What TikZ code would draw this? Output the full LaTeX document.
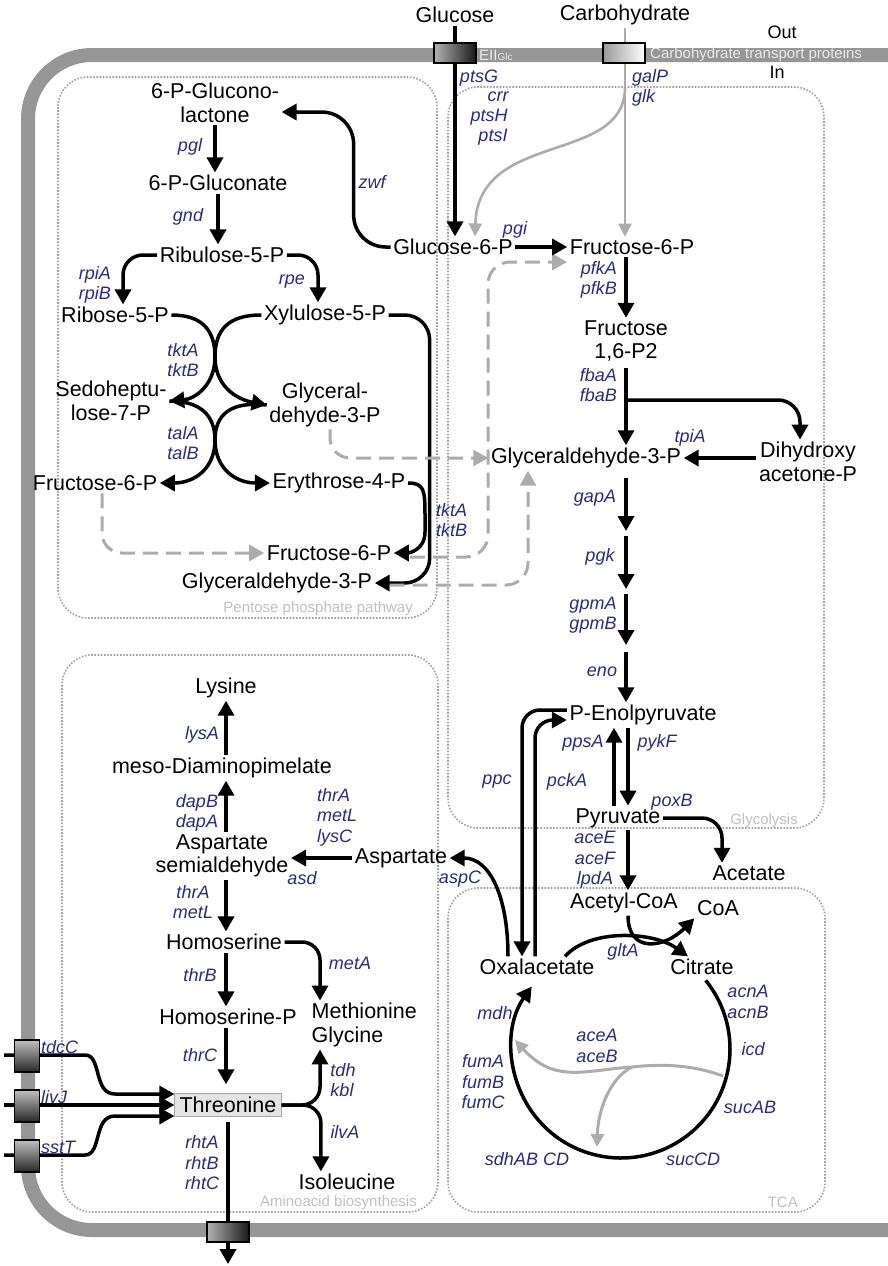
\documentclass[tikz,border=0pt]{standalone}
\usepackage{fontspec}
\setmainfont{Liberation Sans}
\usetikzlibrary{arrows.meta,calc,math}
\definecolor{genecol}{RGB}{45,42,120}
\definecolor{membcol}{RGB}{150,150,150}
\definecolor{shuntcol}{RGB}{172,172,172}
\definecolor{dotcol}{RGB}{160,160,160}
\definecolor{labcol}{RGB}{192,192,192}
\definecolor{thrfill}{RGB}{228,228,228}
\tikzset{
  met/.style={font=\fontsize{21.5}{23.5}\selectfont, inner sep=2.5pt, align=center},
  gene/.style={font=\fontsize{18}{20.5}\selectfont\itshape, text=genecol, inner sep=0pt, align=center},
  rxn/.style={line width=3.5pt, -{Triangle[length=15pt,width=16pt]}},
  greyrxn/.style={line width=2.6pt, draw=shuntcol, -{Triangle[length=13pt,width=13pt]}},
  dashrxn/.style={line width=3pt, draw=shuntcol, dash pattern=on 15pt off 8pt, -{Triangle[length=15pt,width=16pt]}},
  membrane/.style={line width=14pt, draw=membcol, rounded corners=64pt},
  compart/.style={draw=dotcol, line width=1.6pt, dash pattern=on 1.6pt off 1.6pt, rounded corners=30pt},
  complab/.style={font=\fontsize{15}{16}\selectfont, text=labcol, anchor=east, inner sep=0pt},
  bandlab/.style={font=\fontsize{15}{16}\selectfont, text=white!92!black, anchor=west, inner sep=0pt},
  porter/.style={draw=black, line width=1.2pt, minimum width=42pt, minimum height=20pt, inner sep=0pt, left color=black!30, right color=black!90},
  sideporter/.style={draw=black, line width=1.2pt, minimum width=25pt, minimum height=32pt, inner sep=0pt, top color=black!25, bottom color=black!85},
}

\begin{document}
\begin{tikzpicture}[x=1pt,y=-1pt]
	\tikzmath{\gx=626; \tcar=109;}
	\useasboundingbox (0,0) rectangle (888,1266);
	% cell membrane and compartments
	\draw[membrane] (892,55) -- (28,55) -- (28,1230) -- (892,1230);
	\draw[compart] (58,77) rectangle (437,618);
	\draw[compart] (448,87) rectangle (824,828);
	\draw[compart] (62,655) rectangle (438,1212);
	\draw[compart] (448,888) rectangle (825,1212);
	\node[complab] (ppplab) at (413,609) {Pentose phosphate pathway};
	\node[complab] (glylab) at (798,821) {Glycolysis};
	\node[complab] (aalab) at (417,1203) {Aminoacid biosynthesis};
	\node[complab] (tcalab) at (798,1202) {TCA};
	\node[font=\fontsize{18}{20}\selectfont] (out) at (782,32) {Out};
	\node[font=\fontsize{18}{20}\selectfont] (in) at (777,72) {In};

	% metabolites
	\node[met] (glc) at (455,15) {Glucose};
	\node[met] (carb) at (625,15) {Carbohydrate};
	\node[met] (g6p) at (453,247) {Glucose-6-P};
	\node[met] (f6p) at (632,247) {Fructose-6-P};
	\node[met] (fbp) at (\gx,341) {Fructose\\1,6-P2};
	\node[met] (gapg) at (586,458) {Glyceraldehyde-3-P};
	\node[met] (dhap) at (808,462) {Dihydroxy\\acetone-P};
	\node[met] (pep) at (643,715) {P-Enolpyruvate};
	\node[met] (pyr) at (618,818) {Pyruvate};
	\node[met] (ace) at (749,873) {Acetate};
	\node[met] (accoa) at (624,903) {Acetyl-CoA};
	\node[met] (coa) at (718,908) {CoA};
	\node[met] (oaa) at (537,967) {Oxalacetate};
	\node[met] (cit) at (702,967) {Citrate};

	\node[met] (gl) at (215,103) {6-P-Glucono-\\lactone};
	\node[met] (gn) at (218,183) {6-P-Gluconate};
	\node[met] (ru5p) at (222,255) {Ribulose-5-P};
	\node[met] (r5p) at (115,315) {Ribose-5-P};
	\node[met] (x5p) at (325,315) {Xylulose-5-P};
	\node[met] (s7p) at (111,401) {Sedoheptu-\\lose-7-P};
	\node[met] (gap1) at (325,405) {Glyceral-\\dehyde-3-P};
	\node[met] (f6pa) at (95,483) {Fructose-6-P};
	\node[met] (e4p) at (339,483) {Erythrose-4-P};
	\node[met] (f6pb) at (329,553) {Fructose-6-P};
	\node[met] (gap2) at (277,583) {Glyceraldehyde-3-P};

	\node[met] (lys) at (226,688) {Lysine};
	\node[met] (dap) at (222,768) {meso-Diaminopimelate};
	\node[met] (asa) at (222,856) {Aspartate\\semialdehyde};
	\node[met] (asp) at (401,858) {Aspartate};
	\node[met] (hom) at (224,942) {Homoserine};
	\node[met] (homp) at (228,1017) {Homoserine-P};
	\node[met, align=left, anchor=west] (metgly) at (309,1025) {Methionine\\Glycine};
	\node[met, draw=black!35, fill=thrfill, inner xsep=5pt, inner ysep=2pt, minimum height=23pt] (thr) at (228,1105) {Threonine};
	\node[met] (ile) at (347,1182) {Isoleucine};

	% uptake
	\coordinate (galsplit) at (625,88);
	\draw[rxn] (glc.south) -- (g6p.north -| glc);
	\draw[greyrxn] (carb.south) -- (f6p.north -| carb);
	\draw[greyrxn] (galsplit) .. controls (624,165) and (478,130) .. ($(g6p.north)+(22,0)$);
	\node[gene] (ptsg) at (479,78) {ptsG};
	\node[gene] (crr) at (498,97) {crr};
	\node[gene] (ptsh) at (489,117) {ptsH};
	\node[gene] (ptsi) at (493,137) {ptsI};
	\node[gene, anchor=west, align=left] (galp) at (632,88) {galP\\glk};

	% pentose phosphate pathway
	\draw[rxn, rounded corners=32pt] (g6p.west) -| ($(gl.east)+(72,9)$) -- ($(gl.east)+(0,9)$);
	\draw[rxn] (gl.south) -- (gl.south |- gn.north);
	\draw[rxn] (gn.south) -- (gn.south |- ru5p.north);
	\draw[rxn, rounded corners=20pt] (ru5p.west) -| ($(r5p.north)+(8,0)$);
	\draw[rxn, rounded corners=20pt] (ru5p.east) -| ($(x5p.north)+(-7,0)$);
	\draw[rxn] (r5p.east) .. controls (202,315) and (215,330) .. (215,357) .. controls (215,385) and (235,399) .. (gap1.west);
	\draw[rxn] (x5p.west) .. controls (228,315) and (215,330) .. (215,357) .. controls (215,385) and (195,399) .. (s7p.east);
	\draw[rxn] (s7p.east) .. controls (200,401) and (215,415) .. (215,440) .. controls (215,468) and (235,483) .. (e4p.west);
	\draw[rxn] (gap1.west) .. controls (230,401) and (215,415) .. (215,440) .. controls (215,468) and (195,483) .. (f6pa.east);
	\draw[rxn, rounded corners=25pt] (x5p.east) -| ($(gap2.east)+(55,0)$) -- (gap2.east);
	\draw[rxn] (e4p.east) .. controls +(16,0) and +(0,-25) .. (425,515) -- (425,532) .. controls +(0,18) and +(15,0) .. (f6pb.east);
	\node[gene] (pgl) at (190,147) {pgl};
	\node[gene] (gnd) at (188,217) {gnd};
	\node[gene] (zwf) at (372,182) {zwf};
	\node[gene] (rpi) at (95,285) {rpiA\\rpiB};
	\node[gene] (rpe) at (292,282) {rpe};
	\node[gene] (tkt) at (183,360) {tktA\\tktB};
	\node[gene] (tal) at (183,443) {talA\\talB};
	\node[gene, anchor=west, align=left] (tktb) at (436,520) {tktA\\tktB};

	% links between pentose phosphate pathway and glycolysis
	\draw[dashrxn, rounded corners=20pt] ($(gap1.south)+(5,0)$) |- (gapg.west);
	\draw[dashrxn, rounded corners=20pt] ($(f6pa.south)+(7,0)$) |- (f6pb.west);
	\draw[dashrxn, rounded corners=22pt] ($(f6pb.east)+(16,4)$) -| (488,262) -- ($(f6p.west)+(0,15)$);
	\draw[dashrxn, rounded corners=22pt] ($(gap2.east)+(15,2)$) -| ($(gapg.south)+(-58,0)$);

	% glycolysis
	\coordinate (fbasplit) at (\gx,400);
	\coordinate (bpg) at (\gx,531);
	\coordinate (pg3) at (\gx,589);
	\coordinate (pg2) at (\gx,645);
	\draw[rxn] (g6p.east) -- (f6p.west);
	\draw[rxn] (f6p.south -| fbp) -- (fbp.north);
	\draw[rxn, shorten <=4pt] (fbp.south) -- (gapg.north -| fbp);
	\draw[rxn, rounded corners=22pt] (fbasplit) -| ($(dhap.north)+(-8,0)$);
	\draw[rxn] (dhap.west |- gapg.east) -- (gapg.east);
	\draw[rxn, shorten <=7pt] (gapg.south -| bpg) -- (bpg);
	\foreach \a/\b in {bpg/pg3,pg3/pg2}
		\draw[rxn, shorten <=5pt] (\a) -- (\b);
	\draw[rxn, shorten <=7pt] (pg2) -- (pep.north -| pg2);
	\draw[rxn] ($(pyr.north)+(-4,0)$) -- ($(pep.south)+(-29,0)$);
	\draw[rxn] ($(pep.south)+(-15,0)$) -- ($(pyr.north)+(10,0)$);
	\draw[rxn, rounded corners=20pt] (pyr.east) -| ($(ace.north)+(-27,0)$);
	\draw[rxn] ($(pyr.south)+(10,0)$) -- ($(accoa.north)+(4,0)$);
	\node[gene] (pgi) at (515,230) {pgi};
	\node[gene, anchor=east, align=right] (pfk) at (617,280) {pfkA\\pfkB};
	\node[gene, anchor=east, align=right] (fba) at (617,385) {fbaA\\fbaB};
	\node[gene] (tpia) at (690,438) {tpiA};
	\node[gene] (gapa) at (595,498) {gapA};
	\node[gene] (pgk) at (600,557) {pgk};
	\node[gene] (gpm) at (593,615) {gpmA\\gpmB};
	\node[gene] (eno) at (602,672) {eno};
	\node[gene] (ppsa) at (583,743) {ppsA};
	\node[gene] (pykf) at (657,743) {pykF};
	\node[gene] (poxb) at (672,802) {poxB};
	\node[gene] (acee) at (595,860) {aceE\\aceF\\lpdA};

	% anaplerosis and TCA
	\draw[rxn, rounded corners=18pt] ($(pep.west)+(0,-5)$) -| ($(oaa.north)+(-15,0)$);
	\draw[rxn, rounded corners=18pt] ($(oaa.north)+(-2,0)$) |- ($(pep.west)+(0,5)$);
	\draw[rxn] ($(oaa.north)+(-29,0)$) .. controls +(0,-60) and +(40,0) .. (asp.east);
	\draw[rxn] ($(accoa.south)+(4,0)$) .. controls +(0,38) and +(-30,30) .. (coa.south west);
	\draw[rxn] ($(oaa.north)+(28,0)$) .. controls +(25,-28) and +(-35,-25) .. ($(cit.north)+(-14,0)$);
	\coordinate (tca) at (621,1049);
	\draw[rxn] ($(tca)+(-39:\tcar)$) arc[start angle=-39, end angle=215, radius=\tcar];
	\coordinate (icit) at (723,1076);
	\coordinate (glx) at (632,1067);
	\coordinate (mal) at (515,1040);
	\coordinate (suc) at (597,1147);
	\draw[greyrxn, line width=3pt] (icit) .. controls (690,1064) and (660,1064) .. (glx) .. controls (585,1070) and (555,1084) .. (mal);
	\draw[greyrxn, line width=3pt] (glx) .. controls (610,1078) and (598,1110) .. (suc);
	\node[gene] (ppc) at (497,782) {ppc};
	\node[gene] (pcka) at (567,782) {pckA};
	\node[gene] (aspc) at (460,879) {aspC};
	\node[gene] (glta) at (623,952) {gltA};
	\node[gene] (mdh) at (495,1013) {mdh};
	\node[gene] (acea) at (597,1046) {aceA\\aceB};
	\node[gene] (acn) at (748,1002) {acnA\\acnB};
	\node[gene] (icd) at (753,1049) {icd};
	\node[gene] (sucab) at (750,1107) {sucAB};
	\node[gene] (succd) at (693,1159) {sucCD};
	\node[gene] (sdh) at (527,1159) {sdhAB CD};
	\node[gene] (fum) at (483,1082) {fumA\\fumB\\fumC};

	% aminoacid biosynthesis
	\draw[rxn] (dap.north -| lys) -- (lys.south);
	\draw[rxn] (asa.north -| lys) -- (dap.south -| lys);
	\draw[rxn] (asp.west) -- (asa.east |- asp.west);
	\draw[rxn] (asa.south -| lys) -- (hom.north -| lys);
	\draw[rxn] (hom.south -| lys) -- (homp.north -| lys);
	\draw[rxn, shorten >=9pt] (homp.south -| lys) -- (thr.north -| lys);
	\draw[rxn, rounded corners=18pt] (hom.east) -| ($(metgly.north west)+(11,0)$);
	\draw[rxn, rounded corners=18pt] (thr.east) -| ($(metgly.south west)+(11,0)$);
	\draw[rxn, rounded corners=18pt] (thr.east) -| ($(ile.north west)+(25,0)$);
	\node[gene] (lysa) at (202,735) {lysA};
	\node[gene] (dapb) at (197,813) {dapB\\dapA};
	\node[gene, anchor=west, align=left] (thra) at (317,817) {thrA\\metL\\lysC};
	\node[gene] (asd) at (302,878) {asd};
	\node[gene] (thrb2) at (193,902) {thrA\\metL};
	\node[gene] (meta) at (350,963) {metA};
	\node[gene] (thrb) at (200,975) {thrB};
	\node[gene] (thrc) at (200,1055) {thrC};
	\node[gene, align=left] (tdh) at (343,1080) {tdh\\kbl};
	\node[gene] (ilva) at (345,1132) {ilvA};
	\node[gene] (rht) at (202,1163) {rhtA\\rhtB\\rhtC};

	% threonine transport
	\coordinate (tdcout) at (4,1055);
	\coordinate (livout) at (4,1105);
	\coordinate (sstout) at (4,1155);
	\coordinate (throut) at (228,1264);
	\draw[rxn] (tdcout) -- (85,1055) .. controls (102,1055) and (93,1094) .. (115,1094) -- ($(thr.west)+(0,-11)$);
	\draw[rxn] (livout) -- (thr.west);
	\draw[rxn] (sstout) -- (85,1155) .. controls (102,1155) and (93,1116) .. (115,1116) -- ($(thr.west)+(0,11)$);
	\draw[rxn, shorten <=5pt] (thr.south) -- (throut);

	% transporters
	\node[porter] (eii) at (455,53) {};
	\node[porter, left color=black!40, right color=white] (carbpt) at (624,53) {};
	\node[bandlab] (eiilab) at (479,55) {EII{\fontsize{10}{11}\selectfont Glc}};
	\node[bandlab] (carblab) at (650,55) {Carbohydrate transport proteins};
	\node[sideporter] (tdcbox) at (27,1056) {};
	\node[sideporter] (livbox) at (27,1106) {};
	\node[sideporter] (sstbox) at (27,1156) {};
	\node[porter] (rhtbox) at (228,1232) {};
	\node[gene, anchor=west] (tdcc) at (41,1047) {tdcC};
	\node[gene, anchor=west] (livj) at (41,1097) {livJ};
	\node[gene, anchor=west] (sstt) at (41,1147) {sstT};
\end{tikzpicture}
\end{document}
